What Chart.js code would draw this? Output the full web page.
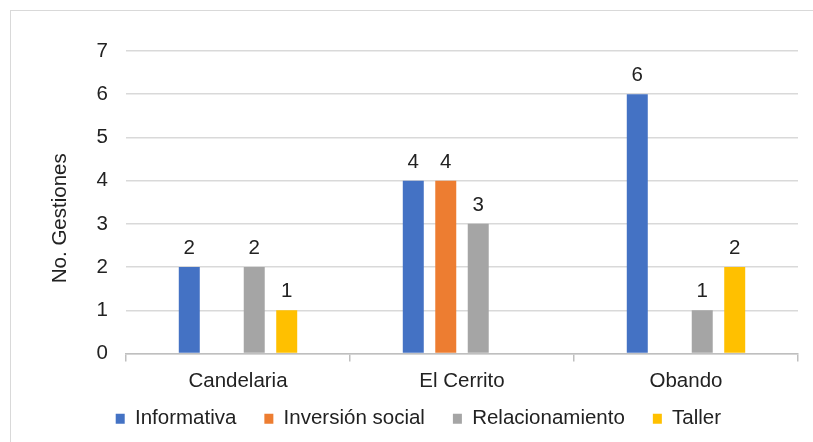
<!DOCTYPE html>
<html>
<head>
<meta charset="utf-8">
<script src="https://cdn.jsdelivr.net/npm/chart.js@4/dist/chart.umd.min.js"></script>
<style>
  html, body { margin: 0; padding: 0; background: #ffffff; }
  #wrap { position: relative; width: 813px; height: 442px; overflow: hidden; background: #fff; }
  #frame { position: absolute; left: 10px; top: 10px; width: 830px; height: 460px; border: 1.5px solid #d9d9d9; box-sizing: border-box; pointer-events: none; }
  canvas { position: absolute; left: 0; top: 0; }
</style>
</head>
<body>
<div id="wrap">
  <canvas id="c" width="813" height="442"></canvas>
  <div id="frame"></div>
</div>
<script>
const categories = ["Candelaria", "El Cerrito", "Obando"];
const seriesNames = ["Informativa", "Inversión social", "Relacionamiento", "Taller"];
const informativa = [2, 4, 6];
const inversionSocial = [null, 4, null];
const relacionamiento = [2, 3, 1];
const taller = [1, null, 2];
const yTicks = [0, 1, 2, 3, 4, 5, 6, 7];
const yTitle = "No. Gestiones";

const colors = ["#4472C4", "#ED7D31", "#A5A5A5", "#FFC000"];
const FONT = "'Liberation Sans', Arial, sans-serif";
const FS = 20.5;
const TXT = "#222222";

const valueLabels = {
  id: "valueLabels",
  afterDatasetsDraw(chart) {
    const ctx = chart.ctx;
    ctx.save();
    ctx.font = FS + "px " + FONT;
    ctx.fillStyle = TXT;
    ctx.textAlign = "center";
    ctx.textBaseline = "alphabetic";
    chart.data.datasets.forEach((ds, i) => {
      const meta = chart.getDatasetMeta(i);
      meta.data.forEach((el, j) => {
        const v = ds.data[j];
        if (v === null || v === undefined) return;
        ctx.fillText(String(v), el.x, el.y - 13);
      });
    });
    ctx.restore();
  }
};

const yTitlePlugin = {
  id: "yTitlePlugin",
  afterDraw(chart) {
    const ctx = chart.ctx;
    const a = chart.chartArea;
    ctx.save();
    ctx.font = FS + "px " + FONT;
    ctx.fillStyle = TXT;
    ctx.textAlign = "center";
    ctx.textBaseline = "middle";
    ctx.translate(60, (a.top + a.bottom) / 2 + 16);
    ctx.rotate(-Math.PI / 2);
    ctx.fillText(yTitle, 0, 0);
    ctx.restore();
  }
};

// move the legend up so it sits just under the category labels
const legendShift = {
  id: "legendShift",
  afterLayout(chart) {
    const lg = chart.legend;
    if (lg) { lg.top -= 15; lg.bottom -= 15; }
  }
};

const seriesData = [informativa, inversionSocial, relacionamiento, taller];

new Chart(document.getElementById("c"), {
  type: "bar",
  data: {
    labels: categories,
    datasets: seriesNames.map((name, i) => ({
      label: name,
      data: seriesData[i],
      backgroundColor: colors[i],
      borderWidth: 0,
      categoryPercentage: 0.58,
      barPercentage: 0.646
    }))
  },
  options: {
    responsive: false,
    animation: false,
    devicePixelRatio: 1,
    layout: { padding: { left: 38.8, right: 15, top: 51, bottom: -12 } },
    plugins: {
      legend: {
        position: "bottom",
        labels: {
          boxWidth: 9,
          boxHeight: 10,
          padding: 28,
          color: TXT,
          font: { family: FONT, size: FS }
        }
      },
      tooltip: { enabled: false }
    },
    scales: {
      x: {
        offset: true,
        grid: {
          display: true,
          offset: true,
          drawOnChartArea: false,
          drawTicks: true,
          tickLength: 8,
          color: "#bfbfbf",
          lineWidth: 1.5
        },
        border: { display: true, color: "#bfbfbf", width: 1.5 },
        ticks: { color: TXT, font: { family: FONT, size: FS }, padding: 8, maxRotation: 0 },
        afterFit(scale) { scale.height = 42; }
      },
      y: {
        min: 0,
        max: 7,
        afterBuildTicks(scale) { scale.ticks = yTicks.map(v => ({ value: v })); },
        grid: { color: "#d9d9d9", lineWidth: 1.5, drawTicks: false },
        border: { display: false },
        ticks: { color: TXT, font: { family: FONT, size: FS }, padding: 18, stepSize: 1 },
        afterFit(scale) { scale.width = 126 - 38.8; }
      }
    }
  },
  plugins: [valueLabels, yTitlePlugin, legendShift]
});
</script>
</body>
</html>
